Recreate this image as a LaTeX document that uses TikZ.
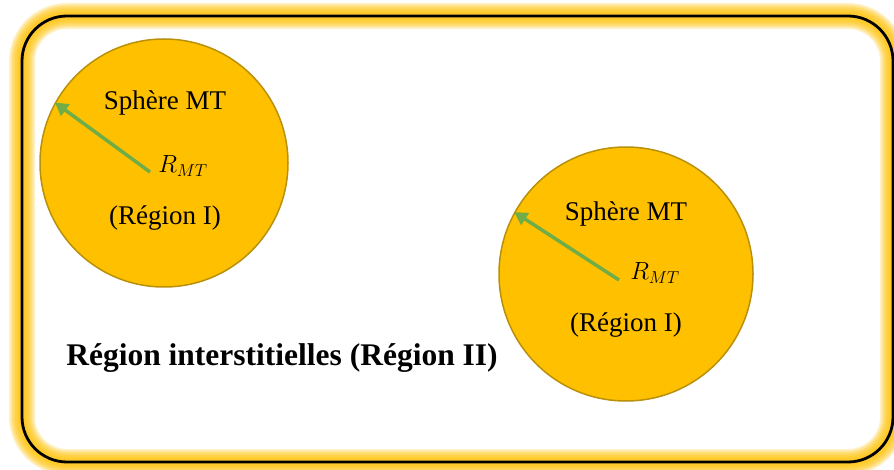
\documentclass[tikz,border=0pt]{standalone}
\usepackage{fontspec}
\setmainfont{Liberation Serif}
\usetikzlibrary{calc,arrows.meta}

\definecolor{gold}{HTML}{FFC000}
\definecolor{darkgold}{HTML}{B8900A}
\definecolor{leaf}{HTML}{70AD47}

\begin{document}
\begin{tikzpicture}[
  x=1pt, y=-1pt,
  sphere/.style={circle, draw=darkgold, line width=1.5pt, fill=gold, inner sep=0pt},
  label/.style={font=\fontsize{27}{32}\selectfont},
  radius arrow/.style={draw=leaf, line width=3.5pt, -{Triangle[length=13pt,width=14pt]}},
  glow/.style={draw=gold, rounded corners=45pt}
]
\useasboundingbox (0,0) rectangle (894,470);
% frame with yellow halo
\foreach \w in {26,23,20,17,14,11,8}
  \draw[glow, line width=\w pt, opacity=0.22] (22,16) rectangle (893,462);
\draw[line width=2.8pt, rounded corners=45pt] (22,16) rectangle (893,462);

% the two muffin-tin spheres
\node[sphere, minimum size=248pt] (s1) at (164,163) {};
\node[sphere, minimum size=254pt] (s2) at (626,274) {};

\coordinate (c1) at ($(s1.center)+(-14,9)$);
\coordinate (c2) at ($(s2.center)+(-7,6)$);
\draw[radius arrow] (c1) -- (s1.151);
\draw[radius arrow] (c2) -- (s2.151);

\node[label] (t1) at (165,103) {Sphère MT};
\node[label] (r1) at (183,166) {$R_{MT}$};
\node[label] (g1) at (165,218) {(Région I)};

\node[label] (t2) at (626,214) {Sphère MT};
\node[label] (r2) at (655,273) {$R_{MT}$};
\node[label] (g2) at (626,325) {(Région I)};

\node[label, font=\fontsize{31.5}{36}\selectfont\bfseries] (ri) at (282,358) {Région interstitielles (Région II)};
\end{tikzpicture}
\end{document}
